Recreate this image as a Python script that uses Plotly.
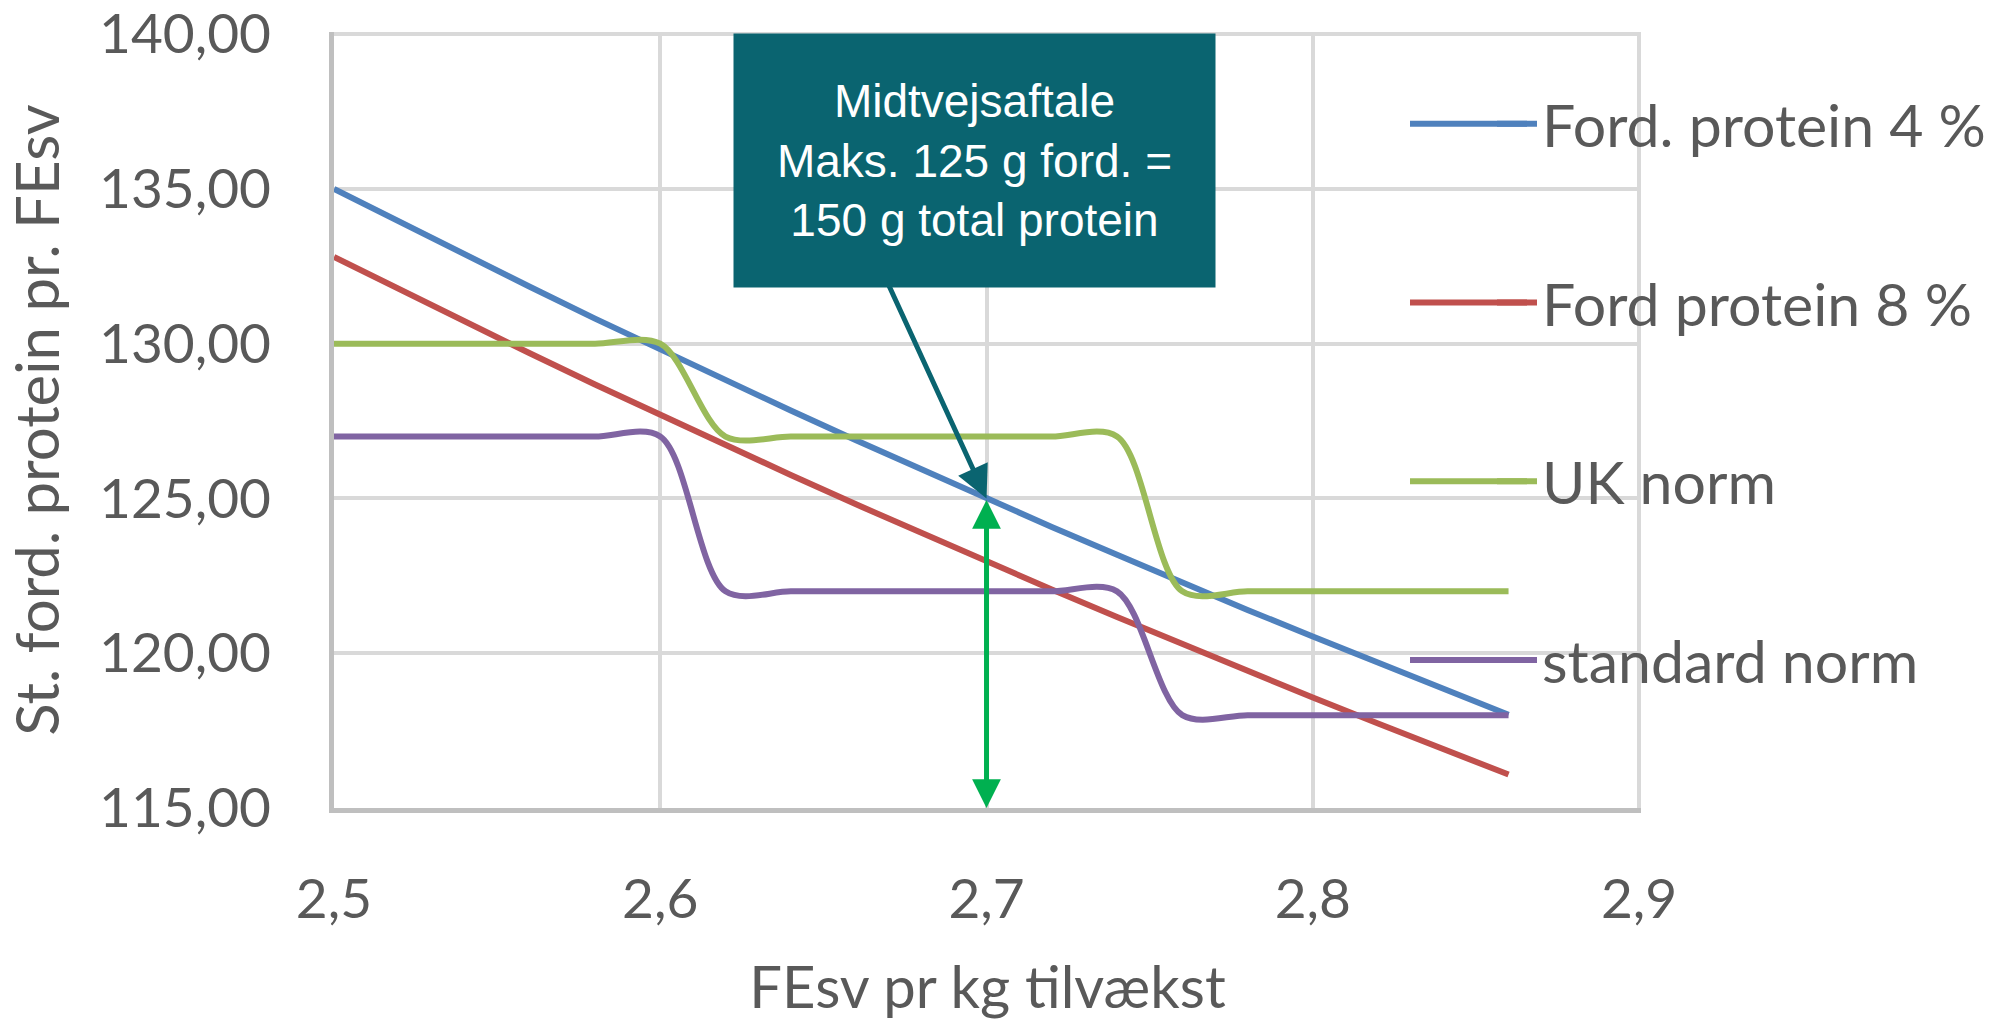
import plotly.graph_objects as go

# ---- data ----
x_vals = [2.50, 2.52, 2.54, 2.56, 2.58, 2.60, 2.62, 2.64, 2.66, 2.68,
          2.70, 2.72, 2.74, 2.76, 2.78, 2.80, 2.82, 2.84, 2.86]
ford_4 = [135.00, 133.93, 132.87, 131.84, 130.81, 129.81, 128.82, 127.84, 126.88, 125.93,
          125.00, 124.08, 123.18, 122.28, 121.40, 120.54, 119.68, 118.84, 118.01]
ford_8 = [132.80, 131.75, 130.71, 129.69, 128.68, 127.69, 126.72, 125.76, 124.81, 123.88,
          122.96, 122.06, 121.17, 120.29, 119.42, 118.57, 117.73, 116.90, 116.08]
uk_norm = [130, 130, 130, 130, 130, 130, 127, 127, 127, 127,
           127, 127, 127, 122, 122, 122, 122, 122, 122]
std_norm = [127, 127, 127, 127, 127, 127, 122, 122, 122, 122,
            122, 122, 122, 118, 118, 118, 118, 118, 118]

series_names = ["Ford. protein 4 %", "Ford protein 8 %", "UK norm", "standard norm"]
series_values = [ford_4, ford_8, uk_norm, std_norm]
series_colors = ["#4f81bd", "#c0504d", "#9bbb59", "#8064a2"]
series_shapes = ["linear", "linear", "spline", "spline"]

x_ticks = [2.5, 2.6, 2.7, 2.8, 2.9]
y_ticks = [115, 120, 125, 130, 135, 140]

callout_text = "Midtvejsaftale<br>Maks. 125 g ford. =<br>150 g total protein"
callout_point = (2.7, 125)
norm_arrow_from = (2.7, 125)
norm_arrow_to = (2.7, 115)

FONT = "Lato"
GRAY = "#595959"
TEAL = "#0a6470"

# plot-area geometry in pixels (for paper-coordinate helpers)
W, H = 1992, 1020
ML, MR, MT, MB = 334, 351, 32, 212
PW, PH = W - ML - MR, H - MT - MB


def px_to_paper_x(px):
    return (px - ML) / PW


def px_to_paper_y(py):
    return (H - MB - py) / PH


fig = go.Figure()
for i, (name, vals, col, shp) in enumerate(zip(series_names, series_values, series_colors, series_shapes)):
    fig.add_trace(go.Scatter(
        x=x_vals, y=vals, name=name, mode="lines",
        line=dict(color=col, width=6, shape=shp, smoothing=0.9),
        legendgroup=f"g{i}",
    ))

LEG_X_PX = 1492
LEG_TOP_PX = 79
LEG_FONT = 59
LEG_GAP = 99
fig.update_layout(
    width=W, height=H,
    margin=dict(l=ML, r=MR, t=MT, b=MB, autoexpand=False),
    paper_bgcolor="white", plot_bgcolor="white",
    separators=",.",
    font=dict(family=FONT, size=55, color=GRAY),
    showlegend=True,
    legend=dict(
        x=px_to_paper_x(LEG_X_PX), xanchor="left",
        y=px_to_paper_y(LEG_TOP_PX), yanchor="top",
        traceorder="grouped", tracegroupgap=LEG_GAP,
        font=dict(family=FONT, size=LEG_FONT, color=GRAY),
        bgcolor="rgba(0,0,0,0)", itemwidth=40,
    ),
    xaxis=dict(
        range=[2.5, 2.9006], tickvals=x_ticks, tickformat=".1f",
        showgrid=True, gridcolor="#d9d9d9", gridwidth=4,
        showline=True, linecolor="#bfbfbf", linewidth=5,
        zeroline=False, ticks="", ticklabelstandoff=39,
        ticklabeloverflow="allow",
        tickfont=dict(family=FONT, size=55, color=GRAY),
        title=dict(text="FEsv pr kg tilvækst", standoff=48,
                   font=dict(family=FONT, size=58, color=GRAY)),
        automargin=False,
    ),
    yaxis=dict(
        range=[115, 140.07], tickvals=y_ticks, tickformat=".2f",
        showgrid=True, gridcolor="#d9d9d9", gridwidth=4,
        showline=True, linecolor="#bfbfbf", linewidth=5,
        zeroline=False, ticks="", ticklabelstandoff=47,
        ticklabeloverflow="allow",
        tickfont=dict(family=FONT, size=55, color=GRAY),
        title=dict(text="St. ford. protein pr. FEsv", standoff=32,
                   font=dict(family=FONT, size=60, color=GRAY)),
        automargin=False,
    ),
)

# longer legend line samples (extend the legend's own short samples to the left),
# aligned with plotly's legend item rows
item_h = LEG_FONT * 1.3 + 3
for k, col in enumerate(series_colors):
    py = LEG_TOP_PX + 5 + item_h / 2 + k * (item_h + LEG_GAP)
    fig.add_shape(
        type="line", xref="paper", yref="paper",
        x0=px_to_paper_x(1410), x1=px_to_paper_x(LEG_X_PX + 35),
        y0=px_to_paper_y(py), y1=px_to_paper_y(py),
        line=dict(color=col, width=6), layer="above",
    )

# callout arrow (drawn first so the box sits on top of its tail)
fig.add_annotation(
    x=callout_point[0], y=callout_point[1], xref="x", yref="y",
    text="", showarrow=True, ax=-99, ay=-216,
    arrowcolor=TEAL, arrowwidth=5, arrowhead=2, arrowsize=1.3, standoff=0,
)
# callout box
fig.add_annotation(
    x=px_to_paper_x(974), y=px_to_paper_y(161), xref="paper", yref="paper",
    xanchor="center", yanchor="middle",
    showarrow=False, text=callout_text, align="center", valign="middle",
    bgcolor=TEAL, width=477, height=249, borderpad=2,
    font=dict(family="Liberation Sans", size=46, color="white"),
)
# green double arrow
fig.add_annotation(
    x=norm_arrow_to[0], y=norm_arrow_to[1], xref="x", yref="y",
    ax=norm_arrow_from[0], ay=norm_arrow_from[1], axref="x", ayref="y",
    text="", showarrow=True, arrowside="end+start",
    arrowcolor="#00b050", arrowwidth=5, arrowhead=2, arrowsize=1.15,
    standoff=0, startstandoff=0,
)

fig.write_html("out.html")
